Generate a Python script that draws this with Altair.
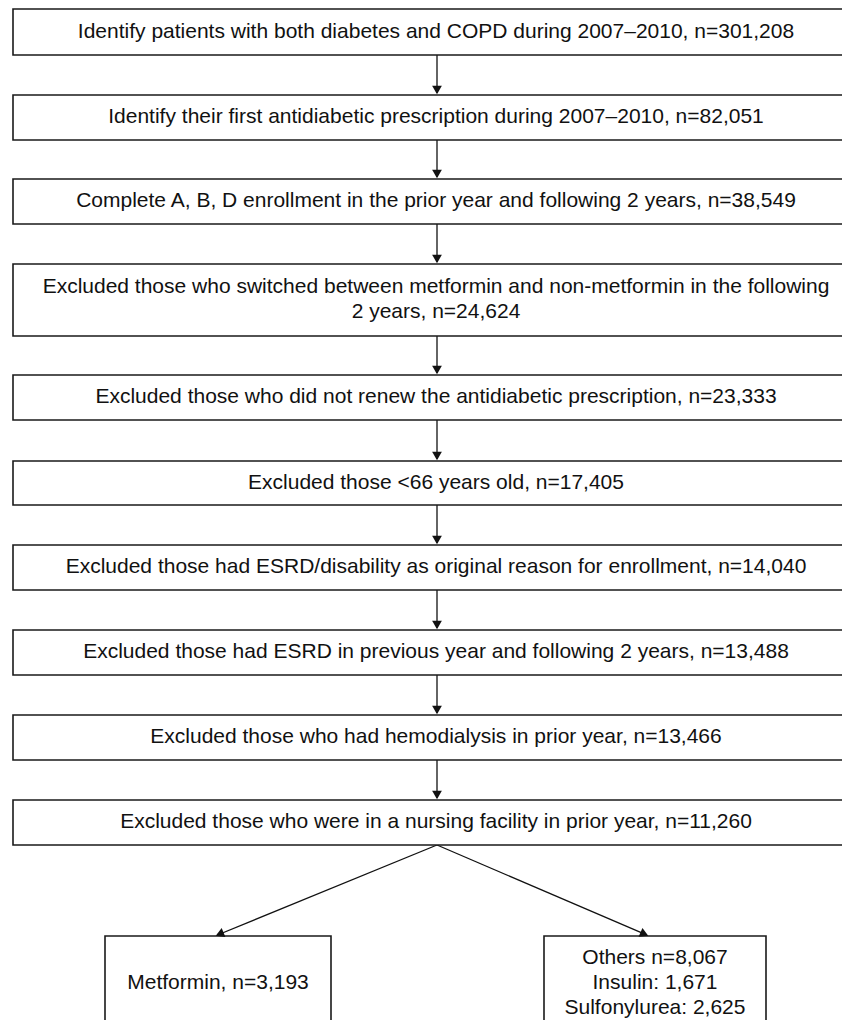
import altair as alt
import pandas as pd
import math

# ---- content ----
step_labels = [
    "Identify patients with both diabetes and COPD during 2007\u20132010, n=301,208",
    "Identify their first antidiabetic prescription during 2007\u20132010, n=82,051",
    "Complete A, B, D enrollment in the prior year and following 2 years, n=38,549",
    "Excluded those who switched between metformin and non-metformin in the following\n2 years, n=24,624",
    "Excluded those who did not renew the antidiabetic prescription, n=23,333",
    "Excluded those <66 years old, n=17,405",
    "Excluded those had ESRD/disability as original reason for enrollment, n=14,040",
    "Excluded those had ESRD in previous year and following 2 years, n=13,488",
    "Excluded those who had hemodialysis in prior year, n=13,466",
    "Excluded those who were in a nursing facility in prior year, n=11,260",
]
branch_labels = [
    "Metformin, n=3,193",
    "Others n=8,067\nInsulin: 1,671\nSulfonylurea: 2,625",
]

# ---- layout (page pixel coordinates) ----
step_top = [9, 95, 179, 264, 375, 461, 545, 630, 715, 800]
step_bottom = [55, 140, 224, 336, 420, 505, 590, 675, 760, 845]
step_text_y = [32, 117, 201, 287, 397, 483, 567, 652, 737, 822]
STEP_X0, STEP_X1 = 13, 860
TEXT_X = 436
ARROW_X = 437
branch_x0 = [105, 544]
branch_x1 = [331, 766]
branch_top = 936
branch_bottom = 1040
branch_tip_x = [215, 649]
branch_text_y = [983, 958]

X0, X1 = 8, 842
Y0, Y1 = 8, 1020
W, H = X1 - X0, Y1 - Y0
FONT = "Liberation Sans"
FS = 21

xs = alt.Scale(domain=[X0, X1], range=[0, W])
ys = alt.Scale(domain=[Y0, Y1], reverse=True)

boxes = pd.DataFrame(
    {
        "x0": [STEP_X0] * len(step_labels) + branch_x0,
        "x1": [STEP_X1] * len(step_labels) + branch_x1,
        "y0": step_top + [branch_top] * 2,
        "y1": step_bottom + [branch_bottom] * 2,
    }
)
texts = pd.DataFrame(
    {
        "x": [TEXT_X] * len(step_labels) + [(a + b) / 2 for a, b in zip(branch_x0, branch_x1)],
        "y": step_text_y + branch_text_y,
        "label": step_labels + branch_labels,
    }
)

# connectors
seg_rows = []
head_rows = []
AH = 5  # half arrowhead height
for i in range(len(step_top) - 1):
    seg_rows.append({"x": ARROW_X, "y": step_bottom[i], "x2": ARROW_X, "y2": step_top[i + 1] - 2})
    head_rows.append({"x": ARROW_X, "y": step_top[i + 1] - AH, "angle": 0})
for tx in branch_tip_x:
    sx, sy = ARROW_X, step_bottom[-1]
    dx, dy = tx - sx, branch_top - sy
    L = math.hypot(dx, dy)
    ux, uy = dx / L, dy / L
    seg_rows.append({"x": sx, "y": sy, "x2": tx - ux * 4, "y2": branch_top - uy * 4})
    ang = math.degrees(math.atan2(-ux, uy)) % 360
    head_rows.append({"x": tx - ux * AH, "y": branch_top - uy * AH, "angle": ang})
segs = pd.DataFrame(seg_rows)
heads = pd.DataFrame(head_rows)

rects = alt.Chart(boxes).mark_rect(
    fill="white", stroke="#1a1a1a", strokeWidth=1.6
).encode(
    x=alt.X("x0:Q", scale=xs, axis=None),
    x2="x1:Q",
    y=alt.Y("y0:Q", scale=ys, axis=None),
    y2="y1:Q",
)

lines = alt.Chart(segs).mark_rule(color="#111111", strokeWidth=1.3).encode(
    x=alt.X("x:Q", scale=xs, axis=None),
    y=alt.Y("y:Q", scale=ys, axis=None),
    x2="x2:Q",
    y2="y2:Q",
)

arrowheads = alt.Chart(heads).mark_point(
    shape="triangle-down", filled=True, color="#111111", size=95, opacity=1
).encode(
    x=alt.X("x:Q", scale=xs, axis=None),
    y=alt.Y("y:Q", scale=ys, axis=None),
    angle=alt.Angle("angle:Q", scale=None),
)

labels = alt.Chart(texts).mark_text(
    font=FONT, fontSize=FS, color="#111111", align="center", baseline="middle",
    lineBreak="\n", lineHeight=25,
).encode(
    x=alt.X("x:Q", scale=xs, axis=None),
    y=alt.Y("y:Q", scale=ys, axis=None),
    text="label:N",
)

chart = (
    alt.layer(lines, rects, arrowheads, labels)
    .properties(width=W, height=H, padding=0, autosize=alt.AutoSizeParams(type="none"))
    .configure_view(stroke=None)
)

chart.save("out.html", embed_options={"renderer": "svg", "actions": False})
